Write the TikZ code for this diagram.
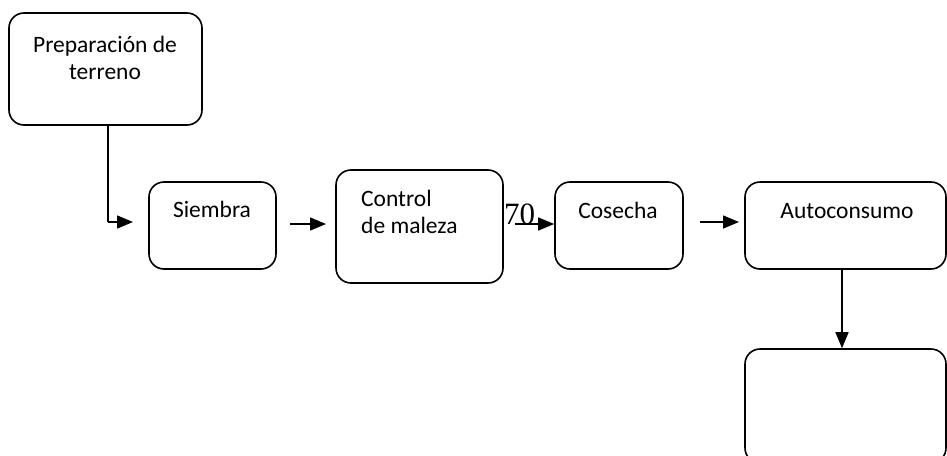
\documentclass[tikz,border=0pt]{standalone}
\usepackage{fontspec}
\setmainfont{Carlito}
\newfontfamily\serifnum{Liberation Serif}
\usetikzlibrary{arrows.meta}
\tikzset{
  box/.style={draw, line width=1.6pt, rounded corners=15pt, minimum width=#1, inner sep=0pt},
  lbl/.style={anchor=base, inner sep=0pt, font=\fontsize{23.5}{28}\selectfont},
  conn/.style={line width=1.5pt, -{Triangle[length=16pt,width=13pt]}},
  plain/.style={line width=1.3pt}
}
\begin{document}
\begin{tikzpicture}[x=1pt,y=-1pt]
\useasboundingbox (0,0) rectangle (947,455);
\clip (0,0) rectangle (947,455);
% boxes
\node[box=193pt, minimum height=112pt] (prep) at (105.5,69) {};
\node[box=127pt, minimum height=87pt] (siem) at (212.5,225.5) {};
\node[box=167pt, minimum height=113pt] (ctrl) at (419.5,226.5) {};
\node[box=128pt, minimum height=87pt] (cose) at (619,225.5) {};
\node[box=201pt, minimum height=87pt] (auto) at (845.5,225.5) {};
\node[box=201pt, minimum height=114pt] (fin) at (845.5,406) {};
% labels
\node[lbl] (tprep1) at (105,52) {Preparación de};
\node[lbl] (tprep2) at (105,79) {terreno};
\node[lbl] (tsiem) at (212,217) {Siembra};
\node[lbl, anchor=base west] (tctrl1) at (361,206) {Control};
\node[lbl, anchor=base west] (tctrl2) at (361,233) {de maleza};
\node[lbl] (tcose) at (618,218) {Cosecha};
\node[lbl] (tauto) at (847,218) {Autoconsumo};
\node[anchor=base west, inner sep=0pt, font=\serifnum\fontsize{31}{33}\selectfont] (seventy) at (504,224) {70};
% connectors
\coordinate (p1) at (108,222);
\coordinate (p1e) at (133,222);
\coordinate (a2s) at (290,224);
\coordinate (a2e) at (326,224);
\coordinate (a3s) at (515,224);
\coordinate (a4s) at (700,222);
\coordinate (a4e) at (739,222);
\draw[plain] (prep.south -| p1) -- (p1);
\draw[conn] (p1) -- (p1e);
\draw[conn] (a2s) -- (a2e);
\draw[conn] (a3s) -- (a3s -| cose.west);
\draw[conn] (a4s) -- (a4e);
\draw[conn] (auto.south -| 842,0) -- (fin.north -| 842,0);
\end{tikzpicture}
\end{document}
